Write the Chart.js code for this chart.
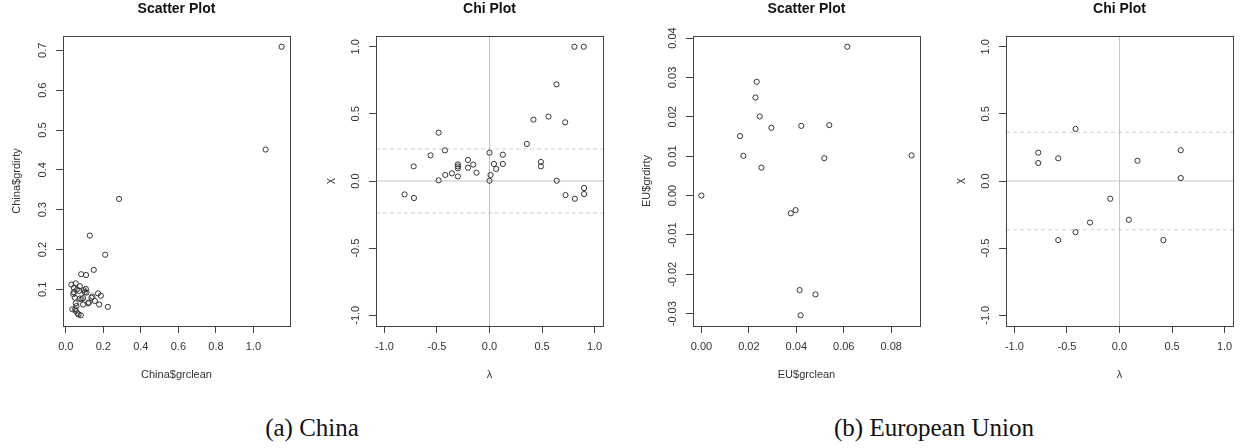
<!DOCTYPE html>
<html>
<head>
<meta charset="utf-8">
<script src="https://cdn.jsdelivr.net/npm/chart.js@4.4.0/dist/chart.umd.min.js"></script>
<style>
  body { margin: 0; background: #fff; width: 1247px; height: 448px; position: relative; overflow: hidden; }
  .panel { position: absolute; top: 0; width: 304px; height: 395px; }
  .caption { position: absolute; top: 413px; height: 30px; line-height: 30px; font-family: "Liberation Serif", serif; font-size: 25px; color: #111; text-align: center; white-space: nowrap; }
</style>
</head>
<body>
<div class="panel" style="left:0px"><canvas id="chinaScatter" width="304" height="395"></canvas></div>
<div class="panel" style="left:313px"><canvas id="chinaChi" width="304" height="395"></canvas></div>
<div class="panel" style="left:630px"><canvas id="euScatter" width="304" height="395"></canvas></div>
<div class="panel" style="left:943px"><canvas id="euChi" width="304" height="395"></canvas></div>
<div class="caption" style="left:212px;width:200px">(a) China</div>
<div class="caption" style="left:784px;width:300px">(b) European Union</div>

<script>
// China: grclean vs grdirty
const chinaClean = [1.15, 1.065, 0.284, 0.128, 0.21, 0.149, 0.082, 0.108,
  0.030, 0.053, 0.075, 0.043, 0.060, 0.107, 0.096, 0.043, 0.071, 0.101,
  0.048, 0.075, 0.092, 0.053, 0.092, 0.119, 0.123, 0.142, 0.155, 0.172,
  0.187, 0.178, 0.224, 0.035, 0.053, 0.062, 0.080, 0.068, 0.050, 0.084,
  0.110, 0.040, 0.137, 0.057];
const chinaDirty = [0.709, 0.451, 0.327, 0.235, 0.187, 0.149, 0.138, 0.136,
  0.112, 0.115, 0.108, 0.104, 0.100, 0.101, 0.098, 0.093, 0.096, 0.093,
  0.079, 0.077, 0.078, 0.065, 0.062, 0.065, 0.067, 0.082, 0.071, 0.090,
  0.084, 0.062, 0.056, 0.050, 0.046, 0.040, 0.035, 0.037, 0.050, 0.075,
  0.092, 0.088, 0.079, 0.058];

// China chi plot
const chinaLambda = [0.808, 0.897, 0.637, 0.418, 0.561, 0.72, -0.484, 0.355,
  -0.561, -0.424, 0.0, 0.127, -0.722, -0.205, -0.301, -0.301, -0.301, -0.155,
  -0.205, -0.124, -0.358, -0.421, -0.301, -0.484, 0.042, 0.127, 0.064, 0.01,
  0.0, 0.489, 0.489, 0.64, -0.808, -0.719, 0.723, 0.812, 0.9, 0.9];
const chinaChi = [1.0, 1.0, 0.72, 0.457, 0.48, 0.437, 0.36, 0.276,
  0.191, 0.228, 0.211, 0.196, 0.109, 0.157, 0.124, 0.109, 0.094, 0.122,
  0.099, 0.062, 0.057, 0.045, 0.034, 0.005, 0.127, 0.127, 0.09, 0.045,
  0.002, 0.142, 0.109, 0.002, -0.1, -0.127, -0.105, -0.132, -0.052, -0.097];
const chinaLimit = 0.238;

// European Union: grclean vs grdirty
const euClean = [0, 0.0163, 0.0177, 0.0228, 0.0233, 0.0246, 0.0253, 0.0295,
  0.0421, 0.0539, 0.0518, 0.0615, 0.0886, 0.0377, 0.0397, 0.0414, 0.0481, 0.0418];
const euDirty = [0, 0.0151, 0.0101, 0.0249, 0.0289, 0.0201, 0.0071, 0.0172,
  0.0177, 0.0179, 0.0095, 0.0378, 0.0102, -0.0045, -0.0037, -0.024, -0.0251, -0.0304];

// European Union chi plot
const euLambda = [-0.773, -0.773, -0.583, -0.418, 0.171, 0.583, 0.583,
  -0.088, 0.089, -0.281, -0.418, -0.583, 0.418];
const euChi = [0.211, 0.134, 0.169, 0.388, 0.151, 0.229, 0.022,
  -0.132, -0.289, -0.309, -0.381, -0.44, -0.44];
const euLimit = 0.363;

// tick labels
const chinaXTicks = [0, 0.2, 0.4, 0.6, 0.8, 1.0];
const chinaYTicks = [0.1, 0.2, 0.3, 0.4, 0.5, 0.6, 0.7];
const euXTicks = [0, 0.02, 0.04, 0.06, 0.08];
const euYTicks = [-0.03, -0.02, -0.01, 0, 0.01, 0.02, 0.03, 0.04];
const chiTicks = [-1, -0.5, 0, 0.5, 1];

Chart.defaults.font.family = '"Liberation Sans", Arial, sans-serif';
Chart.defaults.font.size = 11;
Chart.defaults.color = '#333';

// R-style range: data range stretched by 4%
function rRange(vals) {
  const lo = Math.min(...vals), hi = Math.max(...vals);
  const pad = (hi - lo) * 0.04;
  return [lo - pad, hi + pad];
}

// box, main title and rotated y tick labels like base R graphics
const rPlot = {
  id: 'rPlot',
  afterDraw(chart, args, opts) {
    const { ctx, chartArea: a } = chart;
    const ys = chart.scales.y;
    ctx.save();
    ctx.strokeStyle = '#444';
    ctx.lineWidth = 1;
    ctx.strokeRect(a.left + 0.5, a.top + 0.5, a.right - a.left, a.bottom - a.top);

    ctx.fillStyle = '#111';
    ctx.font = 'bold 14px "Liberation Sans", Arial, sans-serif';
    ctx.textAlign = 'center';
    ctx.textBaseline = 'middle';
    ctx.fillText(opts.title, (a.left + a.right) / 2, 9);

    ctx.fillStyle = '#333';
    ctx.font = '11px "Liberation Sans", Arial, sans-serif';
    ys.ticks.forEach(t => {
      const py = ys.getPixelForValue(t.value);
      ctx.save();
      ctx.translate(a.left - 20, py);
      ctx.rotate(-Math.PI / 2);
      ctx.fillText(t.value.toFixed(opts.yDigits), 0, 0);
      ctx.restore();
    });
    ctx.restore();
  }
};

function axis(range, tickVals, digits, title, isY) {
  return {
    type: 'linear',
    min: range[0],
    max: range[1],
    afterBuildTicks: s => { s.ticks = tickVals.map(v => ({ value: v })); },
    afterFit: s => { if (isY) s.width = 63; else s.height = 56; },
    border: { display: false },
    grid: { drawOnChartArea: false, drawTicks: true, tickLength: 7, color: '#444' },
    ticks: isY ? { display: false } : {
      padding: 7, autoSkip: false, maxRotation: 0, minRotation: 0,
      callback: v => Number(v).toFixed(digits)
    },
    title: {
      display: true, text: title, color: '#333', font: { size: 11 },
      padding: isY ? { top: 10, bottom: 0 } : { top: 0, bottom: 0 }
    }
  };
}

function points(xs, ys) {
  return {
    data: xs.map((x, i) => ({ x: x, y: ys[i] })),
    showLine: false,
    pointRadius: 2.6,
    pointBorderWidth: 1,
    pointBorderColor: '#333',
    pointBackgroundColor: 'rgba(0,0,0,0)'
  };
}

function refLine(x0, y0, x1, y1, dashed) {
  return {
    data: [{ x: x0, y: y0 }, { x: x1, y: y1 }],
    showLine: true,
    pointRadius: 0,
    borderWidth: 1,
    borderColor: dashed ? '#cfcfcf' : '#c4c4c4',
    borderDash: dashed ? [4, 3] : []
  };
}

function makeChart(id, datasets, xr, yr, xTicks, yTicks, xDigits, yDigits, xTitle, yTitle, title) {
  new Chart(document.getElementById(id), {
    type: 'scatter',
    data: { datasets: datasets },
    options: {
      responsive: false,
      animation: false,
      events: [],
      layout: { padding: { top: 36, left: 0, right: 14, bottom: 13 } },
      plugins: { legend: { display: false }, tooltip: { enabled: false }, rPlot: { title: title, yDigits: yDigits } },
      scales: {
        x: axis(xr, xTicks, xDigits, xTitle, false),
        y: axis(yr, yTicks, yDigits, yTitle, true)
      }
    },
    plugins: [rPlot]
  });
}

const chiRange = [-1.08, 1.08];

makeChart('chinaScatter', [points(chinaClean, chinaDirty)],
  rRange(chinaClean), rRange(chinaDirty), chinaXTicks, chinaYTicks, 1, 1,
  'China$grclean', 'China$grdirty', 'Scatter Plot');

makeChart('chinaChi', [
    points(chinaLambda, chinaChi),
    refLine(0, chiRange[0], 0, chiRange[1], false),
    refLine(chiRange[0], 0, chiRange[1], 0, false),
    refLine(chiRange[0], chinaLimit, chiRange[1], chinaLimit, true),
    refLine(chiRange[0], -chinaLimit, chiRange[1], -chinaLimit, true)
  ], chiRange, chiRange, chiTicks, chiTicks, 1, 1, 'λ', 'χ', 'Chi Plot');

makeChart('euScatter', [points(euClean, euDirty)],
  rRange(euClean), rRange(euDirty), euXTicks, euYTicks, 2, 2,
  'EU$grclean', 'EU$grdirty', 'Scatter Plot');

makeChart('euChi', [
    points(euLambda, euChi),
    refLine(0, chiRange[0], 0, chiRange[1], false),
    refLine(chiRange[0], 0, chiRange[1], 0, false),
    refLine(chiRange[0], euLimit, chiRange[1], euLimit, true),
    refLine(chiRange[0], -euLimit, chiRange[1], -euLimit, true)
  ], chiRange, chiRange, chiTicks, chiTicks, 1, 1, 'λ', 'χ', 'Chi Plot');
</script>
</body>
</html>
